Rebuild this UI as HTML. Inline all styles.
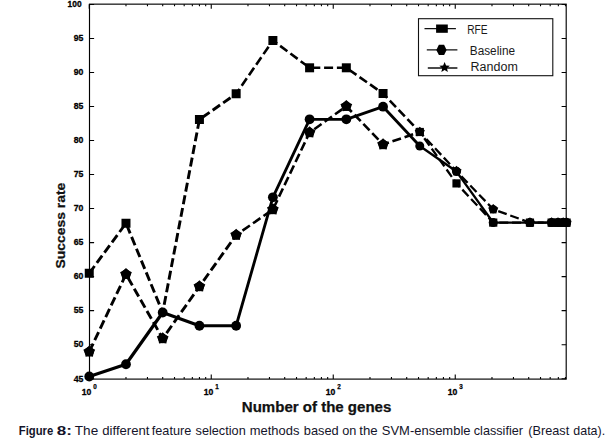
<!DOCTYPE html>
<html><head><meta charset="utf-8"><title>Figure 8</title>
<style>
html,body{margin:0;padding:0;background:#fff;}
body{width:608px;height:441px;position:relative;overflow:hidden;font-family:"Liberation Sans",sans-serif;}
svg text{font-family:"Liberation Sans",sans-serif;fill:#000;}
.tl{font-size:8.7px;font-weight:bold;stroke:#000;stroke-width:0.3px;}
.sup{font-size:6.3px;font-weight:bold;stroke:#000;stroke-width:0.25px;}
.lg{font-size:12px;fill:#1a1a1a;}
.cp{font-size:13px;fill:#14142a;}
.cp.b{font-weight:bold;}
.al{font-size:14px;font-weight:bold;fill:#111;stroke:#111;stroke-width:0.25px;}
.al2{font-size:13.5px;font-weight:bold;fill:#111;stroke:#111;stroke-width:0.25px;}
.cap{position:absolute;left:0;top:423.9px;font-size:12.85px;line-height:14px;color:#14142a;white-space:nowrap;}
.cap span{position:absolute;top:0;}
</style></head><body>
<svg width="608" height="441" viewBox="0 0 608 441" style="position:absolute;left:0;top:0">
<rect x="89.5" y="4.15" width="476.70000000000005" height="374.95000000000005" fill="none" stroke="#000" stroke-width="1.15"/>
<path d="M89.25 379.1v-4.6M89.25 4.15v4.6M125.98 379.1v-2.2M125.98 4.15v2.2M147.46 379.1v-2.2M147.46 4.15v2.2M162.70 379.1v-2.2M162.70 4.15v2.2M174.52 379.1v-2.2M174.52 4.15v2.2M184.18 379.1v-2.2M184.18 4.15v2.2M192.35 379.1v-2.2M192.35 4.15v2.2M199.43 379.1v-2.2M199.43 4.15v2.2M205.67 379.1v-2.2M205.67 4.15v2.2M211.25 379.1v-4.6M211.25 4.15v4.6M247.98 379.1v-2.2M247.98 4.15v2.2M269.46 379.1v-2.2M269.46 4.15v2.2M284.70 379.1v-2.2M284.70 4.15v2.2M296.52 379.1v-2.2M296.52 4.15v2.2M306.18 379.1v-2.2M306.18 4.15v2.2M314.35 379.1v-2.2M314.35 4.15v2.2M321.43 379.1v-2.2M321.43 4.15v2.2M327.67 379.1v-2.2M327.67 4.15v2.2M333.25 379.1v-4.6M333.25 4.15v4.6M369.98 379.1v-2.2M369.98 4.15v2.2M391.46 379.1v-2.2M391.46 4.15v2.2M406.70 379.1v-2.2M406.70 4.15v2.2M418.52 379.1v-2.2M418.52 4.15v2.2M428.18 379.1v-2.2M428.18 4.15v2.2M436.35 379.1v-2.2M436.35 4.15v2.2M443.43 379.1v-2.2M443.43 4.15v2.2M449.67 379.1v-2.2M449.67 4.15v2.2M455.25 379.1v-4.6M455.25 4.15v4.6M491.98 379.1v-2.2M491.98 4.15v2.2M513.46 379.1v-2.2M513.46 4.15v2.2M528.70 379.1v-2.2M528.70 4.15v2.2M540.52 379.1v-2.2M540.52 4.15v2.2M550.18 379.1v-2.2M550.18 4.15v2.2M558.35 379.1v-2.2M558.35 4.15v2.2M565.43 379.1v-2.2M565.43 4.15v2.2M89.5 378.70h4.6M566.2 378.70h-4.6M89.5 344.68h4.6M566.2 344.68h-4.6M89.5 310.65h4.6M566.2 310.65h-4.6M89.5 276.62h4.6M566.2 276.62h-4.6M89.5 242.60h4.6M566.2 242.60h-4.6M89.5 208.57h4.6M566.2 208.57h-4.6M89.5 174.55h4.6M566.2 174.55h-4.6M89.5 140.53h4.6M566.2 140.53h-4.6M89.5 106.50h4.6M566.2 106.50h-4.6M89.5 72.48h4.6M566.2 72.48h-4.6M89.5 38.45h4.6M566.2 38.45h-4.6M89.5 4.43h4.6M566.2 4.43h-4.6" stroke="#000" stroke-width="1.1" fill="none"/>
<text x="83.4" y="381.50" text-anchor="end" class="tl">45</text>
<text x="83.4" y="347.48" text-anchor="end" class="tl">50</text>
<text x="83.4" y="313.45" text-anchor="end" class="tl">55</text>
<text x="83.4" y="279.43" text-anchor="end" class="tl">60</text>
<text x="83.4" y="245.40" text-anchor="end" class="tl">65</text>
<text x="83.4" y="211.38" text-anchor="end" class="tl">70</text>
<text x="83.4" y="177.35" text-anchor="end" class="tl">75</text>
<text x="83.4" y="143.33" text-anchor="end" class="tl">80</text>
<text x="83.4" y="109.30" text-anchor="end" class="tl">85</text>
<text x="83.4" y="75.28" text-anchor="end" class="tl">90</text>
<text x="83.4" y="41.25" text-anchor="end" class="tl">95</text>
<text x="81.6" y="7.23" text-anchor="end" class="tl" textLength="14" lengthAdjust="spacingAndGlyphs">100</text>
<text x="81.65" y="394.8" class="tl" style="font-size:8.6px">10</text><text x="93.25" y="389" class="sup">0</text>
<text x="203.65" y="394.8" class="tl" style="font-size:8.6px">10</text><text x="215.25" y="389" class="sup">1</text>
<text x="325.65" y="394.8" class="tl" style="font-size:8.6px">10</text><text x="337.25" y="389" class="sup">2</text>
<text x="447.65" y="394.8" class="tl" style="font-size:8.6px">10</text><text x="459.25" y="389" class="sup">3</text>
<g stroke="#000" fill="none" stroke-linecap="butt"><line x1="89.25" y1="273.25" x2="125.98" y2="223.25" stroke-width="2.9" stroke-dasharray="9 3.8" stroke-dashoffset="0.00"/><line x1="125.98" y1="223.25" x2="162.70" y2="312.50" stroke-width="2.9" stroke-dasharray="9 3.8" stroke-dashoffset="10.84"/><line x1="162.70" y1="312.50" x2="199.43" y2="119.50" stroke-width="2.9" stroke-dasharray="9 3.8" stroke-dashoffset="4.95"/><line x1="199.43" y1="119.50" x2="236.15" y2="93.75" stroke-width="2.9" stroke-dasharray="9 3.8" stroke-dashoffset="9.41"/><line x1="236.15" y1="93.75" x2="272.88" y2="40.50" stroke-width="2.6" stroke-dasharray="9 3.8" stroke-dashoffset="3.07"/><line x1="272.88" y1="40.50" x2="309.60" y2="67.80" stroke-width="2.6" stroke-dasharray="9 3.8" stroke-dashoffset="3.75"/><line x1="309.60" y1="67.80" x2="346.33" y2="67.80" stroke-width="2.6" stroke-dasharray="9 3.8" stroke-dashoffset="11.11"/><line x1="346.33" y1="67.80" x2="383.06" y2="93.50" stroke-width="2.6" stroke-dasharray="9 3.8" stroke-dashoffset="9.44"/><line x1="383.06" y1="93.50" x2="419.78" y2="132.00" stroke-width="2.6" stroke-dasharray="9 3.8" stroke-dashoffset="3.06"/><line x1="419.78" y1="132.00" x2="456.51" y2="183.40" stroke-width="2.3" stroke-dasharray="9 3.8" stroke-dashoffset="5.07"/><line x1="456.51" y1="183.40" x2="493.23" y2="222.60" stroke-width="2.3" stroke-dasharray="9 3.8" stroke-dashoffset="4.24"/><line x1="493.23" y1="222.60" x2="529.96" y2="222.60" stroke-width="2.3" stroke-dasharray="9 3.8" stroke-dashoffset="6.76"/><line x1="529.96" y1="222.60" x2="551.60" y2="222.60" stroke-width="2.3" stroke-dasharray="9 3.8" stroke-dashoffset="5.09"/><line x1="551.60" y1="222.60" x2="558.00" y2="222.60" stroke-width="2.3" stroke-dasharray="9 3.8" stroke-dashoffset="1.13"/><line x1="558.00" y1="222.60" x2="563.20" y2="222.60" stroke-width="2.3" stroke-dasharray="9 3.8" stroke-dashoffset="7.53"/><line x1="563.20" y1="222.60" x2="566.60" y2="222.60" stroke-width="2.3" stroke-dasharray="9 3.8" stroke-dashoffset="12.73"/><line x1="89.25" y1="351.75" x2="125.98" y2="274.25" stroke-width="2.9" stroke-dasharray="9 3.8" stroke-dashoffset="0.00"/><line x1="125.98" y1="274.25" x2="162.70" y2="338.50" stroke-width="2.9" stroke-dasharray="9 3.8" stroke-dashoffset="8.96"/><line x1="162.70" y1="338.50" x2="199.43" y2="286.50" stroke-width="2.9" stroke-dasharray="9 3.8" stroke-dashoffset="6.17"/><line x1="199.43" y1="286.50" x2="236.15" y2="235.00" stroke-width="2.9" stroke-dasharray="9 3.8" stroke-dashoffset="5.83"/><line x1="236.15" y1="235.00" x2="272.88" y2="209.50" stroke-width="2.6" stroke-dasharray="9 3.8" stroke-dashoffset="5.08"/><line x1="272.88" y1="209.50" x2="309.60" y2="132.50" stroke-width="2.6" stroke-dasharray="9 3.8" stroke-dashoffset="11.39"/><line x1="309.60" y1="132.50" x2="346.33" y2="106.25" stroke-width="2.6" stroke-dasharray="9 3.8" stroke-dashoffset="7.10"/><line x1="346.33" y1="106.25" x2="383.06" y2="144.50" stroke-width="2.6" stroke-dasharray="9 3.8" stroke-dashoffset="1.04"/><line x1="383.06" y1="144.50" x2="419.78" y2="132.00" stroke-width="2.6" stroke-dasharray="9 3.8" stroke-dashoffset="2.87"/><line x1="419.78" y1="132.00" x2="456.51" y2="171.20" stroke-width="2.3" stroke-dasharray="9 3.8" stroke-dashoffset="3.27"/><line x1="456.51" y1="171.20" x2="493.23" y2="209.30" stroke-width="2.3" stroke-dasharray="9 3.8" stroke-dashoffset="5.78"/><line x1="493.23" y1="209.30" x2="529.96" y2="222.60" stroke-width="2.3" stroke-dasharray="9 3.8" stroke-dashoffset="7.50"/><line x1="529.96" y1="222.60" x2="551.60" y2="222.60" stroke-width="2.3" stroke-dasharray="9 3.8" stroke-dashoffset="8.16"/><line x1="551.60" y1="222.60" x2="558.00" y2="222.60" stroke-width="2.3" stroke-dasharray="9 3.8" stroke-dashoffset="4.20"/><line x1="558.00" y1="222.60" x2="563.20" y2="222.60" stroke-width="2.3" stroke-dasharray="9 3.8" stroke-dashoffset="10.60"/><line x1="563.20" y1="222.60" x2="566.60" y2="222.60" stroke-width="2.3" stroke-dasharray="9 3.8" stroke-dashoffset="3.00"/></g>
<g stroke="#000" fill="none" stroke-linecap="round"><line x1="89.25" y1="376.50" x2="125.98" y2="364.25" stroke-width="3.2"/><line x1="125.98" y1="364.25" x2="162.70" y2="312.50" stroke-width="3.2"/><line x1="162.70" y1="312.50" x2="199.43" y2="325.75" stroke-width="3.2"/><line x1="199.43" y1="325.75" x2="236.15" y2="325.75" stroke-width="3.2"/><line x1="236.15" y1="325.75" x2="272.88" y2="197.30" stroke-width="2.85"/><line x1="272.88" y1="197.30" x2="309.60" y2="119.30" stroke-width="2.85"/><line x1="309.60" y1="119.30" x2="346.33" y2="119.30" stroke-width="2.85"/><line x1="346.33" y1="119.30" x2="383.06" y2="106.70" stroke-width="2.85"/><line x1="383.06" y1="106.70" x2="419.78" y2="146.00" stroke-width="2.85"/><line x1="419.78" y1="146.00" x2="456.51" y2="171.60" stroke-width="2.4"/><line x1="456.51" y1="171.60" x2="493.23" y2="222.60" stroke-width="2.4"/><line x1="493.23" y1="222.60" x2="529.96" y2="222.60" stroke-width="2.4"/><line x1="529.96" y1="222.60" x2="551.60" y2="222.60" stroke-width="2.4"/><line x1="551.60" y1="222.60" x2="558.00" y2="222.60" stroke-width="2.4"/><line x1="558.00" y1="222.60" x2="563.20" y2="222.60" stroke-width="2.4"/><line x1="563.20" y1="222.60" x2="566.60" y2="222.60" stroke-width="2.4"/></g>
<g fill="#000">
<rect x="84.75" y="268.75" width="9.0" height="9.0"/>
<rect x="121.48" y="218.75" width="9.0" height="9.0"/>
<rect x="194.93" y="115.00" width="9.0" height="9.0"/>
<rect x="231.65" y="89.25" width="9.0" height="9.0"/>
<rect x="268.38" y="36.00" width="9.0" height="9.0"/>
<rect x="305.10" y="63.30" width="9.0" height="9.0"/>
<rect x="341.83" y="63.30" width="9.0" height="9.0"/>
<rect x="378.56" y="89.00" width="9.0" height="9.0"/>
<rect x="415.68" y="127.90" width="8.2" height="8.2"/>
<rect x="452.41" y="179.30" width="8.2" height="8.2"/>
<rect x="489.13" y="218.50" width="8.2" height="8.2"/>
<rect x="525.86" y="218.50" width="8.2" height="8.2"/>
<rect x="547.50" y="218.50" width="8.2" height="8.2"/>
<rect x="553.90" y="218.50" width="8.2" height="8.2"/>
<rect x="559.10" y="218.50" width="8.2" height="8.2"/>
<rect x="562.50" y="218.50" width="8.2" height="8.2"/>
<circle cx="89.25" cy="376.50" r="4.9"/>
<circle cx="125.98" cy="364.25" r="4.9"/>
<circle cx="162.70" cy="312.50" r="4.9"/>
<circle cx="199.43" cy="325.75" r="4.9"/>
<circle cx="236.15" cy="325.75" r="4.9"/>
<circle cx="272.88" cy="197.30" r="4.9"/>
<circle cx="309.60" cy="119.30" r="4.9"/>
<circle cx="346.33" cy="119.30" r="4.9"/>
<circle cx="383.06" cy="106.70" r="4.9"/>
<circle cx="419.78" cy="146.00" r="4.5"/>
<circle cx="456.51" cy="171.60" r="4.5"/>
<circle cx="493.23" cy="222.60" r="4.5"/>
<circle cx="529.96" cy="222.60" r="4.5"/>
<circle cx="551.60" cy="222.60" r="4.5"/>
<circle cx="558.00" cy="222.60" r="4.5"/>
<circle cx="563.20" cy="222.60" r="4.5"/>
<circle cx="566.60" cy="222.60" r="4.5"/>
<circle cx="89.25" cy="351.75" r="4.75"/><polygon points="89.25,345.55 91.90,348.11 95.15,349.83 93.53,353.14 92.89,356.77 89.25,356.25 85.61,356.77 84.97,353.14 83.35,349.83 86.60,348.11"/>
<circle cx="125.98" cy="274.25" r="4.75"/><polygon points="125.98,268.05 128.62,270.61 131.87,272.33 130.26,275.64 129.62,279.27 125.98,278.75 122.33,279.27 121.70,275.64 120.08,272.33 123.33,270.61"/>
<circle cx="162.70" cy="338.50" r="4.75"/><polygon points="162.70,332.30 165.35,334.86 168.60,336.58 166.98,339.89 166.35,343.52 162.70,343.00 159.06,343.52 158.42,339.89 156.80,336.58 160.06,334.86"/>
<circle cx="199.43" cy="286.50" r="4.75"/><polygon points="199.43,280.30 202.07,282.86 205.32,284.58 203.71,287.89 203.07,291.52 199.43,291.00 195.78,291.52 195.15,287.89 193.53,284.58 196.78,282.86"/>
<circle cx="236.15" cy="235.00" r="4.75"/><polygon points="236.15,228.80 238.80,231.36 242.05,233.08 240.43,236.39 239.80,240.02 236.15,239.50 232.51,240.02 231.87,236.39 230.26,233.08 233.51,231.36"/>
<circle cx="272.88" cy="209.50" r="4.75"/><polygon points="272.88,203.30 275.52,205.86 278.77,207.58 277.16,210.89 276.52,214.52 272.88,214.00 269.23,214.52 268.60,210.89 266.98,207.58 270.23,205.86"/>
<circle cx="309.60" cy="132.50" r="4.75"/><polygon points="309.60,126.30 312.25,128.86 315.50,130.58 313.88,133.89 313.25,137.52 309.60,137.00 305.96,137.52 305.32,133.89 303.71,130.58 306.96,128.86"/>
<circle cx="346.33" cy="106.25" r="4.75"/><polygon points="346.33,100.05 348.97,102.61 352.23,104.33 350.61,107.64 349.97,111.27 346.33,110.75 342.69,111.27 342.05,107.64 340.43,104.33 343.68,102.61"/>
<circle cx="383.06" cy="144.50" r="4.75"/><polygon points="383.06,138.30 385.70,140.86 388.95,142.58 387.34,145.89 386.70,149.52 383.06,149.00 379.41,149.52 378.78,145.89 377.16,142.58 380.41,140.86"/>
<circle cx="419.78" cy="132.00" r="4.08"/><polygon points="419.78,126.67 422.06,128.87 424.85,130.35 423.46,133.20 422.92,136.31 419.78,135.87 416.65,136.31 416.10,133.20 414.71,130.35 417.51,128.87"/>
<circle cx="456.51" cy="171.20" r="4.08"/><polygon points="456.51,165.87 458.78,168.07 461.58,169.55 460.19,172.40 459.64,175.51 456.51,175.07 453.37,175.51 452.83,172.40 451.44,169.55 454.23,168.07"/>
<circle cx="493.23" cy="209.30" r="4.08"/><polygon points="493.23,203.97 495.51,206.17 498.30,207.65 496.91,210.50 496.37,213.61 493.23,213.17 490.10,213.61 489.55,210.50 488.16,207.65 490.96,206.17"/>
<circle cx="529.96" cy="222.60" r="4.08"/><polygon points="529.96,217.27 532.23,219.47 535.03,220.95 533.64,223.80 533.09,226.91 529.96,226.47 526.82,226.91 526.28,223.80 524.89,220.95 527.68,219.47"/>
<circle cx="551.60" cy="222.60" r="4.08"/><polygon points="551.60,217.27 553.87,219.47 556.67,220.95 555.28,223.80 554.73,226.91 551.60,226.47 548.47,226.91 547.92,223.80 546.53,220.95 549.33,219.47"/>
<circle cx="558.00" cy="222.60" r="4.08"/><polygon points="558.00,217.27 560.27,219.47 563.07,220.95 561.68,223.80 561.13,226.91 558.00,226.47 554.87,226.91 554.32,223.80 552.93,220.95 555.73,219.47"/>
<circle cx="563.20" cy="222.60" r="4.08"/><polygon points="563.20,217.27 565.47,219.47 568.27,220.95 566.88,223.80 566.33,226.91 563.20,226.47 560.07,226.91 559.52,223.80 558.13,220.95 560.93,219.47"/>
<circle cx="566.60" cy="222.60" r="4.08"/><polygon points="566.60,217.27 568.87,219.47 571.67,220.95 570.28,223.80 569.73,226.91 566.60,226.47 563.47,226.91 562.92,223.80 561.53,220.95 564.33,219.47"/>
</g>
<rect x="418.5" y="18.7" width="134.3" height="57" fill="#fff" stroke="#111" stroke-width="1.1"/>
<path d="M424.5 28.7H455.9M426.8 49.8H457.4M427.8 68H457.4" stroke="#111" stroke-width="1.3"/>
<rect x="436.1" y="24.5" width="11.7" height="8.3" fill="#000"/>
<polygon points="436.3,49.9 438.9,44.8 444.1,44.8 446.6,49.9 444.1,55.1 438.9,55.1" fill="#000"/>
<g fill="#000"><polygon points="444.60,62.00 446.07,65.48 449.83,65.80 446.98,68.27 447.83,71.95 444.60,70.00 441.37,71.95 442.22,68.27 439.37,65.80 443.13,65.48"/></g>
<text x="467.2" y="33.6" class="lg" textLength="20.4" lengthAdjust="spacingAndGlyphs">RFE</text>
<text x="469.8" y="54.6" class="lg" textLength="45.2" lengthAdjust="spacingAndGlyphs">Baseline</text>
<text x="470.6" y="70.7" class="lg" textLength="47.2" lengthAdjust="spacingAndGlyphs">Random</text>
<text x="241.8" y="411.6" class="al" textLength="149.5" lengthAdjust="spacingAndGlyphs">Number of the genes</text>
<text transform="translate(64.6 268.4) rotate(-90)" class="al2" textLength="85.7" lengthAdjust="spacingAndGlyphs">Success rate</text>
<text x="18.80" y="435.3" class="cp b" textLength="34.40" lengthAdjust="spacingAndGlyphs">Figure</text><text x="56.80" y="434.9" class="cp b" textLength="15.15" lengthAdjust="spacingAndGlyphs">8:</text><text x="74.80" y="434.9" class="cp" textLength="23.40" lengthAdjust="spacingAndGlyphs">The</text><text x="102.30" y="434.9" class="cp" textLength="47.15" lengthAdjust="spacingAndGlyphs">different</text><text x="151.80" y="434.9" class="cp" textLength="39.40" lengthAdjust="spacingAndGlyphs">feature</text><text x="195.55" y="434.9" class="cp" textLength="50.15" lengthAdjust="spacingAndGlyphs">selection</text><text x="249.80" y="434.9" class="cp" textLength="49.65" lengthAdjust="spacingAndGlyphs">methods</text><text x="303.80" y="434.9" class="cp" textLength="34.90" lengthAdjust="spacingAndGlyphs">based</text><text x="342.30" y="434.9" class="cp" textLength="14.15" lengthAdjust="spacingAndGlyphs">on</text><text x="359.30" y="434.9" class="cp" textLength="18.40" lengthAdjust="spacingAndGlyphs">the</text><text x="381.80" y="434.9" class="cp" textLength="88.70" lengthAdjust="spacingAndGlyphs">SVM-ensemble</text><text x="473.80" y="434.9" class="cp" textLength="49.20" lengthAdjust="spacingAndGlyphs">classifier</text><text x="528.30" y="434.9" class="cp" textLength="40.90" lengthAdjust="spacingAndGlyphs">(Breast</text><text x="573.30" y="434.9" class="cp" textLength="31.80" lengthAdjust="spacingAndGlyphs">data).</text>
</svg>
</body></html>
